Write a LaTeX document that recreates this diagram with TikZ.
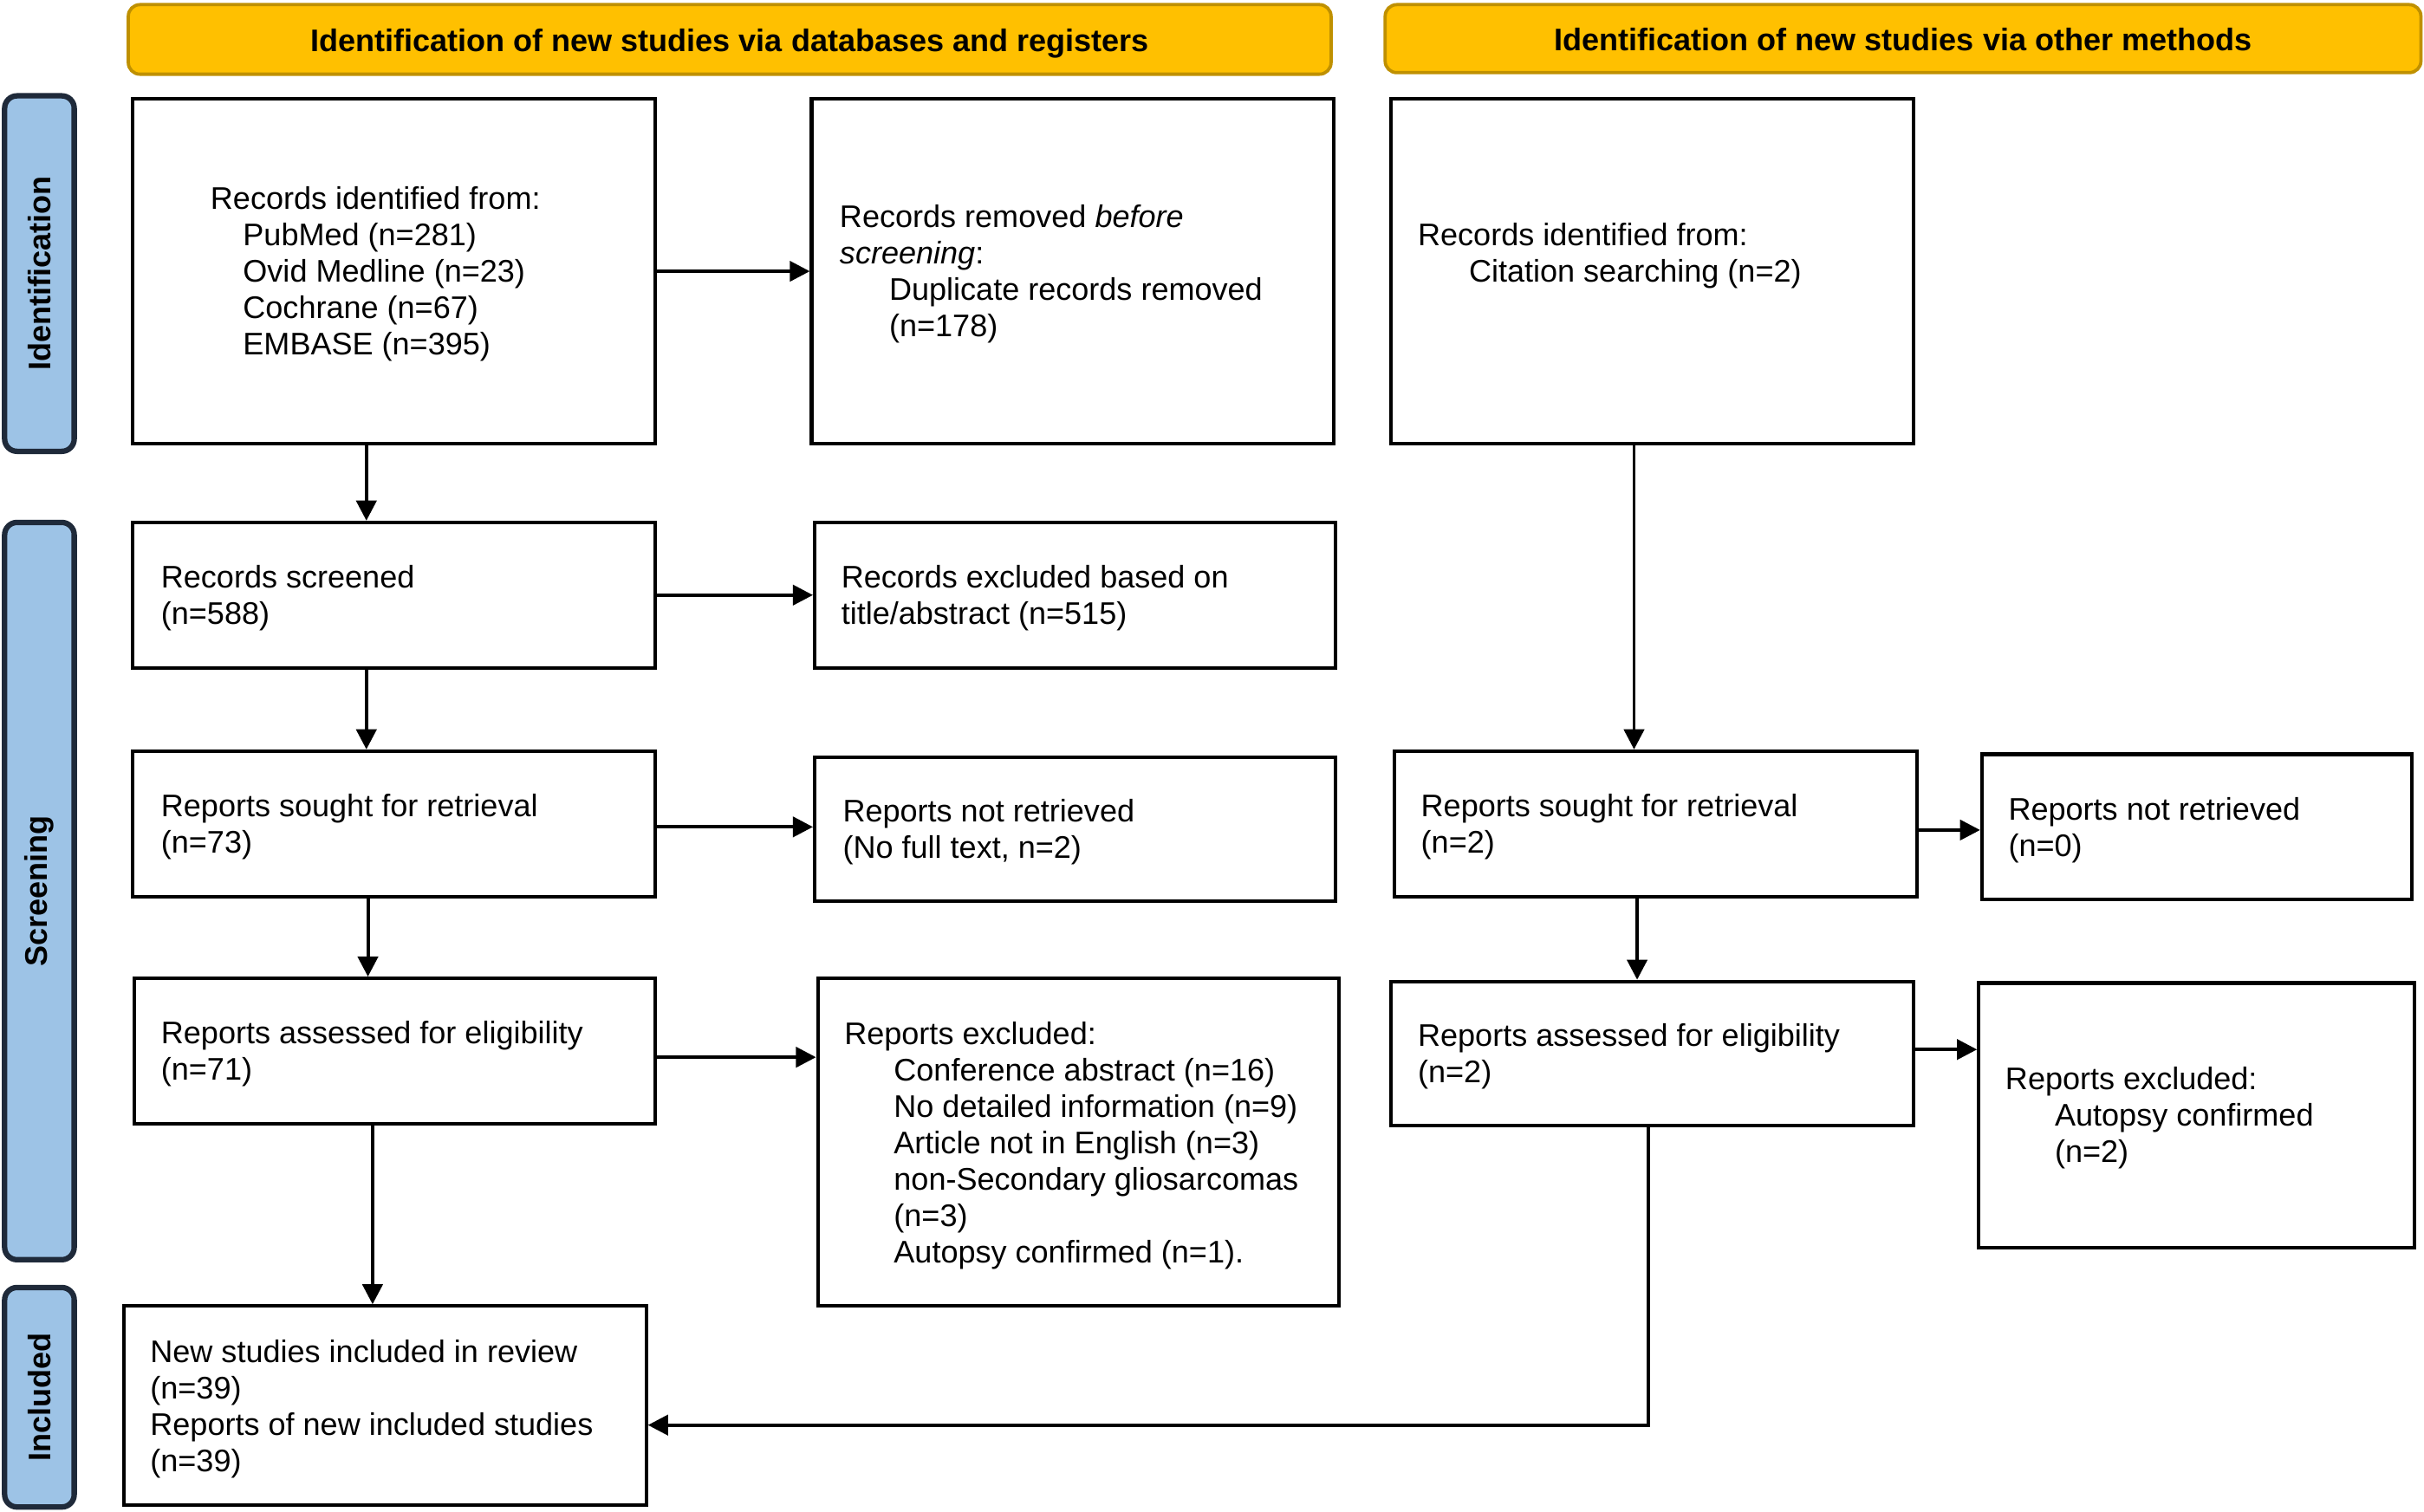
\documentclass[tikz,border=0pt]{standalone}
\usepackage{fontspec}
\setmainfont{Liberation Sans}
\usetikzlibrary{arrows.meta,calc}
\definecolor{hdrfill}{HTML}{FFC000}
\definecolor{hdrdraw}{HTML}{BF9000}
\definecolor{sidefill}{HTML}{9DC3E6}
\definecolor{sidedraw}{HTML}{1F2A3A}
\begin{document}
\begin{tikzpicture}[x=0.2mm,y=-0.2mm,
  font=\fontsize{11.5pt}{13.4pt}\selectfont,
  box/.style={draw=black, line width=1.3pt, fill=white, inner sep=0pt},
  txt/.style={anchor=west, align=left, inner sep=0pt, yshift=-0.4mm},
  hdr/.style={draw=hdrdraw, fill=hdrfill, line width=1.2pt, rounded corners=1.5mm, inner sep=0pt,
    font=\fontsize{11.5pt}{13.4pt}\selectfont\bfseries},
  side/.style={draw=sidedraw, fill=sidefill, line width=2pt, rounded corners=1.6mm, rotate=90, inner sep=0pt,
    minimum height=9mm, font=\fontsize{11.5pt}{13.4pt}\selectfont\bfseries},
  arr/.style={line width=1.25pt, -{Triangle[length=2.6mm,width=2.6mm]}}]
\fill[white] (0,0) rectangle (1568,978);
\useasboundingbox (0,0) rectangle (1568,978);

% headers
\node[hdr, minimum width=155.6mm, minimum height=9mm] (h1) at (472,25.5) {\raisebox{-1.55mm}[0pt][0pt]{Identification of new studies via databases and registers}};
\node[hdr, minimum width=134mm, minimum height=8.8mm] (h2) at (1231,25) {\raisebox{-1.55mm}[0pt][0pt]{Identification of new studies via other methods}};

% side labels
\node[side, minimum width=46mm] (s1) at (25.5,177) {Identification};
\node[side, minimum width=95.4mm] (s2) at (25.5,576.5) {Screening};
\node[side, minimum width=28.4mm] (s3) at (25.5,904) {Included};

% boxes left column
\node[box, minimum width=67.6mm, minimum height=44.6mm] (A) at (255,175.5) {};
\node[txt] (At) at ($(A.west)+(51,0)$) {Records identified from:\\
  \hspace*{4.2mm}PubMed (n=281)\\
  \hspace*{4.2mm}Ovid Medline (n=23)\\
  \hspace*{4.2mm}Cochrane (n=67)\\
  \hspace*{4.2mm}EMBASE (n=395)};

\node[box, minimum width=67.6mm, minimum height=44.6mm] (B) at (694,175.5) {};
\node[txt] (Bt) at ($(B.west)+(19,0)$) {Records removed \textit{before}\\
  \textit{screening}:\\
  \hspace*{6.4mm}Duplicate records removed\\
  \hspace*{6.4mm}(n=178)};

\node[box, minimum width=67.6mm, minimum height=18.8mm] (C) at (255,385) {};
\node[txt] (Ct) at ($(C.west)+(19,0)$) {Records screened\\(n=588)};

\node[box, minimum width=67.4mm, minimum height=18.8mm] (D) at (695.5,385) {};
\node[txt] (Dt) at ($(D.west)+(18,0)$) {Records excluded based on\\title/abstract (n=515)};

\node[box, minimum width=67.6mm, minimum height=18.8mm] (E) at (255,533) {};
\node[txt] (Et) at ($(E.west)+(19,0)$) {Reports sought for retrieval\\(n=73)};

\node[box, minimum width=67.4mm, minimum height=18.6mm] (F) at (695.5,536.5) {};
\node[txt] (Ft) at ($(F.west)+(19,0)$) {Reports not retrieved\\(No full text, n=2)};

\node[box, minimum width=67.4mm, minimum height=18.8mm] (G) at (255.5,680) {};
\node[txt] (Gt) at ($(G.west)+(18,0)$) {Reports assessed for eligibility\\(n=71)};

\node[box, minimum width=67.4mm, minimum height=42.4mm] (H) at (697.5,739) {};
\node[txt] (Ht) at ($(H.west)+(18,0)$) {Reports excluded:\\
  \hspace*{6.4mm}Conference abstract (n=16)\\
  \hspace*{6.4mm}No detailed information (n=9)\\
  \hspace*{6.4mm}Article not in English (n=3)\\
  \hspace*{6.4mm}non-Secondary gliosarcomas\\
  \hspace*{6.4mm}(n=3)\\
  \hspace*{6.4mm}Autopsy confirmed (n=1).};

\node[box, minimum width=67.6mm, minimum height=25.8mm] (I) at (249,909.5) {};
\node[txt] (It) at ($(I.west)+(18,0)$) {New studies included in review\\(n=39)\\Reports of new included studies\\(n=39)};

% right column
\node[box, minimum width=67.6mm, minimum height=44.6mm] (J) at (1069,175.5) {};
\node[txt] (Jt) at ($(J.west)+(18,-12)$) {Records identified from:\\
  \hspace*{6.6mm}Citation searching (n=2)};

\node[box, minimum width=67.6mm, minimum height=18.8mm] (K) at (1071,533) {};
\node[txt] (Kt) at ($(K.west)+(18,0)$) {Reports sought for retrieval\\(n=2)};

\node[box, minimum width=55.6mm, minimum height=18.8mm] (L) at (1421,535) {};
\node[txt] (Lt) at ($(L.west)+(18,0)$) {Reports not retrieved\\(n=0)};

\node[box, minimum width=67.6mm, minimum height=18.6mm] (M) at (1069,681.5) {};
\node[txt] (Mt) at ($(M.west)+(18,0)$) {Reports assessed for eligibility\\(n=2)};

\node[box, minimum width=56.4mm, minimum height=34.2mm] (N) at (1421,721.5) {};
\node[txt] (Nt) at ($(N.west)+(18,0)$) {Reports excluded:\\
  \hspace*{6.4mm}Autopsy confirmed\\
  \hspace*{6.4mm}(n=2)};

% helper coordinates
\coordinate (x1) at (237,0);
\coordinate (x2) at (238,0);
\coordinate (x3) at (241,0);
\coordinate (x4) at (1057,0);
\coordinate (x5) at (1059,0);
\coordinate (y1) at (0,535);
\coordinate (y2) at (0,684);
\coordinate (y3) at (0,537);
\coordinate (y4) at (0,679);
\coordinate (mi) at (1066,922);

% arrows
\draw[arr] (A.south -| x1) -- (C.north -| x1);
\draw[arr] (C.south -| x1) -- (E.north -| x1);
\draw[arr] (E.south -| x2) -- (G.north -| x2);
\draw[arr] (G.south -| x3) -- (I.north -| x3);
\draw[arr] (A.east) -- (A.east -| B.west);
\draw[arr] (C.east) -- (C.east -| D.west);
\draw[arr] (E.east |- y1) -- (F.west |- y1);
\draw[arr] (G.east |- y2) -- (H.west |- y2);
\draw[arr] (J.south -| x4) -- (K.north -| x4);
\draw[arr] (K.south -| x5) -- (M.north -| x5);
\draw[arr] (K.east |- y3) -- (L.west |- y3);
\draw[arr] (M.east |- y4) -- (N.west |- y4);
\draw[arr] (M.south -| mi) -- (mi) -- (mi -| I.east);
\end{tikzpicture}
\end{document}
